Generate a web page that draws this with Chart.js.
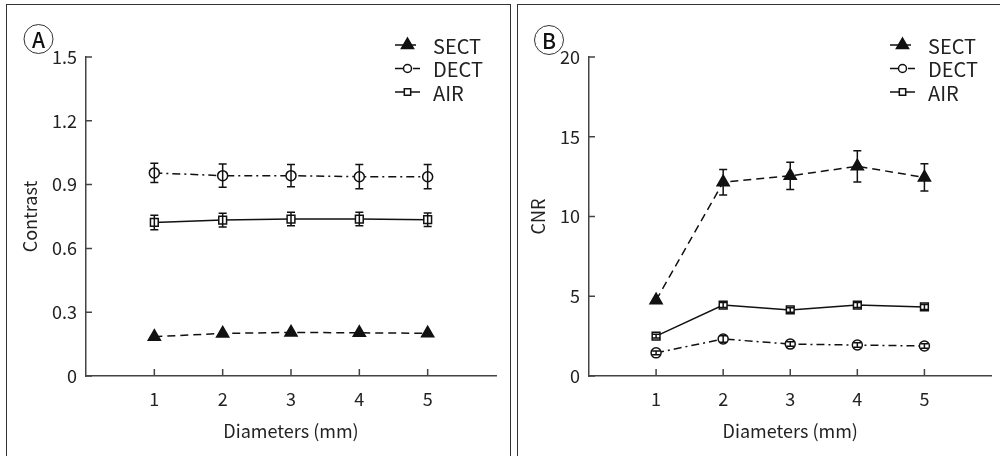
<!DOCTYPE html>
<html>
<head>
<meta charset="utf-8">
<script src="https://cdn.jsdelivr.net/npm/chart.js@4.4.1/dist/chart.umd.min.js"></script>
<style>
  body { margin: 0; background: #fff; width: 1000px; height: 456px; overflow: hidden; position: relative; }
  .panel { position: absolute; top: 4px; height: 470px; border-top: 1.5px solid #333; border-left: 1.5px solid #333; }
  #panelA { left: 6px; width: 503px; border-right: 1.5px solid #333; }
  #panelB { left: 517px; width: 500px; }
  .wrap { position: absolute; top: 0; }
  #wrapA { left: 0; }
  #wrapB { left: 518px; }
</style>
</head>
<body>
<div class="panel" id="panelA"></div>
<div class="panel" id="panelB"></div>
<div class="wrap" id="wrapA"><canvas id="chartA" width="510" height="456"></canvas></div>
<div class="wrap" id="wrapB"><canvas id="chartB" width="482" height="456"></canvas></div>
<script>
// data
const diameters = [1, 2, 3, 4, 5];
const seriesNames = ["SECT", "DECT", "AIR"];

const contrastTicks = [0, 0.3, 0.6, 0.9, 1.2, 1.5];
const contrastSect = [0.185, 0.2, 0.205, 0.203, 0.201];
const contrastSectErr = [0.004, 0.004, 0.004, 0.004, 0.004];
const contrastDect = [0.955, 0.942, 0.942, 0.937, 0.937];
const contrastDectErr = [0.045, 0.055, 0.052, 0.057, 0.057];
const contrastAir = [0.722, 0.733, 0.738, 0.738, 0.735];
const contrastAirErr = [0.034, 0.032, 0.032, 0.032, 0.032];

const cnrTicks = [0, 5, 10, 15, 20];
const cnrSect = [4.75, 12.15, 12.55, 13.15, 12.45];
const cnrSectErr = [0.08, 0.8, 0.85, 0.98, 0.85];
const cnrDect = [1.45, 2.32, 2.0, 1.94, 1.88];
const cnrDectErr = [0.12, 0.2, 0.14, 0.14, 0.14];
const cnrAir = [2.5, 4.45, 4.14, 4.45, 4.33];
const cnrAirErr = [0.12, 0.16, 0.14, 0.16, 0.16];

const FONT = '"Noto Sans CJK KR", "Noto Sans", sans-serif';
const INK = "#111";

const seriesStyles = {
  SECT: { pointStyle: "triangle", radius: 7, legendRadius: 7, fill: INK, dash: [8, 5] },
  DECT: { pointStyle: "circle", radius: 5, legendRadius: 4, fill: "#fff", dash: [8, 4, 2, 4] },
  AIR: { pointStyle: "rect", radius: 5.5, legendRadius: 4.5, fill: "#fff", dash: [] }
};

function makeDataset(name, values, errors) {
  const s = seriesStyles[name];
  return {
    label: name,
    data: diameters.map((d, i) => ({ x: d, y: values[i] })),
    errors,
    borderColor: INK,
    borderWidth: 1.5,
    borderDash: s.dash,
    pointStyle: s.pointStyle,
    pointRadius: s.radius,
    pointBackgroundColor: s.fill,
    pointBorderColor: INK,
    pointBorderWidth: 1.5,
    tension: 0
  };
}

const errorBars = {
  id: "errorBars",
  afterDatasetsDraw(chart) {
    const { ctx, scales } = chart;
    ctx.save();
    ctx.strokeStyle = INK;
    ctx.lineWidth = 1.5;
    ctx.setLineDash([]);
    chart.data.datasets.forEach((ds) => {
      ds.data.forEach((p, i) => {
        const e = ds.errors[i];
        const x = scales.x.getPixelForValue(p.x);
        const top = scales.y.getPixelForValue(p.y + e);
        const bot = scales.y.getPixelForValue(p.y - e);
        if (bot - top < 3) return;
        ctx.beginPath();
        ctx.moveTo(x, top); ctx.lineTo(x, bot);
        ctx.moveTo(x - 4, top); ctx.lineTo(x + 4, top);
        ctx.moveTo(x - 4, bot); ctx.lineTo(x + 4, bot);
        ctx.stroke();
      });
    });
    ctx.restore();
  }
};

const innerTicks = {
  id: "innerTicks",
  afterDraw(chart) {
    const { ctx, chartArea, scales } = chart;
    ctx.save();
    ctx.strokeStyle = "#444";
    ctx.lineWidth = 1.5;
    ctx.beginPath();
    scales.x.ticks.forEach((t) => {
      const x = scales.x.getPixelForValue(t.value);
      ctx.moveTo(x, chartArea.bottom); ctx.lineTo(x, chartArea.bottom - 7);
    });
    scales.y.ticks.forEach((t) => {
      const y = scales.y.getPixelForValue(t.value);
      ctx.moveTo(chartArea.left, y); ctx.lineTo(chartArea.left + 6, y);
    });
    ctx.stroke();
    ctx.restore();
  }
};

const panelDecor = {
  id: "panelDecor",
  afterDraw(chart, args, opts) {
    const { ctx } = chart;
    ctx.save();
    // circled panel letter
    ctx.strokeStyle = "#333";
    ctx.lineWidth = 1;
    ctx.beginPath();
    ctx.arc(opts.letterX, opts.letterY, 14.5, 0, Math.PI * 2);
    ctx.stroke();
    ctx.fillStyle = INK;
    ctx.font = "500 21px " + FONT;
    ctx.textAlign = "center";
    ctx.textBaseline = "middle";
    ctx.fillText(opts.letter, opts.letterX, opts.letterY + 1);

    // legend
    ctx.font = "20px " + FONT;
    ctx.textAlign = "left";
    chart.data.datasets.forEach((ds, i) => {
      const s = seriesStyles[ds.label];
      const y = opts.legendY + i * 23.5;
      ctx.strokeStyle = INK;
      ctx.lineWidth = 1.5;
      ctx.setLineDash(ds.borderDash);
      ctx.beginPath();
      ctx.moveTo(opts.legendX, y); ctx.lineTo(opts.legendX + 25, y);
      ctx.stroke();
      ctx.setLineDash([]);
      ctx.fillStyle = s.fill;
      Chart.helpers.drawPoint(ctx, { pointStyle: s.pointStyle, radius: s.legendRadius, rotation: 0, borderWidth: 1.5 }, opts.legendX + 12.5, y);
      ctx.fillStyle = "#222";
      ctx.fillText(ds.label, opts.legendX + 38, y + 1);
    });
    ctx.restore();
  }
};

function makeChart(canvasId, datasets, yTicks, yTitle, layout, decor) {
  return new Chart(document.getElementById(canvasId), {
    type: "line",
    data: { datasets },
    plugins: [errorBars, innerTicks, panelDecor],
    options: {
      responsive: false,
      animation: false,
      layout: { padding: { top: 57, right: layout.right, left: 0, bottom: 0 } },
      plugins: {
        legend: { display: false },
        tooltip: { enabled: false },
        panelDecor: decor
      },
      scales: {
        x: {
          type: "linear",
          min: 0,
          max: 6,
          afterBuildTicks: (scale) => { scale.ticks = diameters.map((v) => ({ value: v })); },
          afterFit: (scale) => { scale.height = 80; },
          grid: { display: false, drawTicks: false },
          border: { color: "#444", width: 1.5 },
          ticks: { color: "#222", padding: 12, font: { family: FONT, size: 18 } },
          title: { display: true, text: "Diameters (mm)", color: "#222", padding: { top: 0, bottom: 14 }, font: { family: FONT, size: 18 } }
        },
        y: {
          min: yTicks[0],
          max: yTicks[yTicks.length - 1],
          afterBuildTicks: (scale) => { scale.ticks = yTicks.map((v) => ({ value: v })); },
          afterFit: (scale) => { scale.width = layout.axisWidth; },
          grid: { display: false, drawTicks: false },
          border: { color: "#444", width: 1.5 },
          ticks: { color: "#222", padding: 9, font: { family: FONT, size: 18 } },
          title: { display: true, text: yTitle, color: "#222", padding: { top: layout.titlePad, bottom: 0 }, font: { family: FONT, size: 18 } }
        }
      }
    }
  });
}

makeChart(
  "chartA",
  [
    makeDataset("SECT", contrastSect, contrastSectErr),
    makeDataset("DECT", contrastDect, contrastDectErr),
    makeDataset("AIR", contrastAir, contrastAirErr)
  ],
  contrastTicks,
  "Contrast",
  { right: 14, axisWidth: 86, titlePad: 19 },
  { letter: "A", letterX: 38.5, letterY: 39, legendX: 395, legendY: 45 }
);

makeChart(
  "chartB",
  [
    makeDataset("SECT", cnrSect, cnrSectErr),
    makeDataset("DECT", cnrDect, cnrDectErr),
    makeDataset("AIR", cnrAir, cnrAirErr)
  ],
  cnrTicks,
  "CNR",
  { right: 2, axisWidth: 71, titlePad: 9 },
  { letter: "B", letterX: 31, letterY: 40, legendX: 372, legendY: 45 }
);
</script>
</body>
</html>
